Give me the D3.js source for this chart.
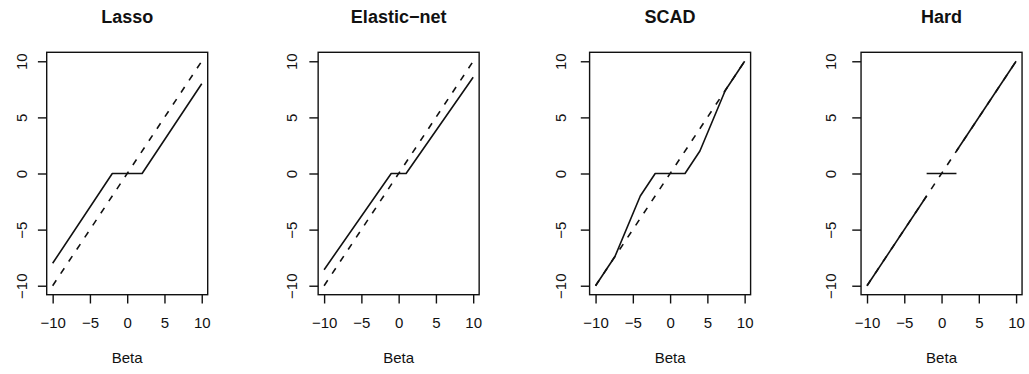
<!DOCTYPE html>
<html>
<head>
<meta charset="utf-8">
<script src="https://cdn.jsdelivr.net/npm/d3@7"></script>
<style>
  body { margin: 0; background: #fff; }
  text { font-family: "Liberation Sans", Arial, sans-serif; fill: #111; }
</style>
</head>
<body>
<div id="chart"></div>
<script>
// thresholding rules: estimate vs. Beta, identity drawn dashed
var betaTicks = [-10, -5, 0, 5, 10];
var panelTitles = ["Lasso", "Elastic\u2212net", "SCAD", "Hard"];

var identityX = [-10, 10];
var identityY = [-10, 10];

var lassoX = [-10, -2, 2, 10];
var lassoY = [-8, 0, 0, 8];

var enetX = [-10, -1, 1, 10];
var enetY = [-8.57, 0, 0, 8.57];

var scadX = [-10, -7.4, -4, -2, 2, 4, 7.4, 10];
var scadY = [-10, -7.4, -2, 0, 0, 2, 7.4, 10];

// null breaks the line into separate pieces
var hardX = [-10, -2, null, -2, 2, null, 2, 10];
var hardY = [-10, -2, null, 0, 0, null, 2, 10];

var solidX = [lassoX, enetX, scadX, hardX];
var solidY = [lassoY, enetY, scadY, hardY];

var svgWidth = 1029;
var svgHeight = 374;

var plotLeft = 46.7;
var plotStep = 271.45;
var plotWidth = 161;
var plotTop = 52.3;
var plotHeight = 242.4;
var yLabelGap = [20.2, 21.3, 24, 25.5];

var svg = d3.select("#chart")
  .append("svg")
  .attr("width", svgWidth)
  .attr("height", svgHeight);

function zip(xs, ys) {
  return xs.map(function(x, i) { return [x, ys[i]]; });
}

panelTitles.forEach(function(title, i) {
  var left = plotLeft + i * plotStep;

  var xScale = d3.scaleLinear()
    .domain([-10.8, 10.8])
    .range([0, plotWidth]);

  var yScale = d3.scaleLinear()
    .domain([-10.8, 10.8])
    .range([plotHeight, 0]);

  var g = svg.append("g")
    .attr("transform", `translate(${left}, ${plotTop})`);

  var line = d3.line()
    .defined(d => d[0] !== null)
    .x(d => xScale(d[0]))
    .y(d => yScale(d[1]));

  // dashed identity line
  g.append("path")
    .datum(zip(identityX, identityY))
    .attr("d", line)
    .attr("fill", "none")
    .attr("stroke", "#111")
    .attr("stroke-width", 1.6)
    .attr("stroke-dasharray", "6.5,8");

  // thresholded estimate
  g.append("path")
    .datum(zip(solidX[i], solidY[i]))
    .attr("d", line)
    .attr("fill", "none")
    .attr("stroke", "#111")
    .attr("stroke-width", 1.6)
    .attr("stroke-linejoin", "round");

  // box
  g.append("rect")
    .attr("x", 0)
    .attr("y", 0)
    .attr("width", plotWidth)
    .attr("height", plotHeight)
    .attr("fill", "none")
    .attr("stroke", "#111")
    .attr("stroke-width", 1.4);

  var bottomAxis = d3.axisBottom(xScale)
    .tickValues(betaTicks)
    .tickSize(8.8)
    .tickFormat(d => d < 0 ? "\u2212" + Math.abs(d) : d);

  var xAxis = g.append("g")
    .attr("transform", `translate(0, ${plotHeight})`)
    .call(bottomAxis);
  xAxis.select(".domain").remove();
  xAxis.selectAll("line").attr("stroke", "#111").attr("stroke-width", 1.4);
  xAxis.selectAll("text")
    .attr("y", 33.6)
    .attr("dy", null)
    .attr("fill", "#222")
    .attr("font-size", "15px")
    .attr("font-family", null);

  var leftAxis = d3.axisLeft(yScale)
    .tickValues(betaTicks)
    .tickSize(8.8)
    .tickFormat(d => d < 0 ? "\u2212" + Math.abs(d) : d);

  var yAxis = g.append("g")
    .call(leftAxis);
  yAxis.select(".domain").remove();
  yAxis.selectAll("line").attr("stroke", "#111").attr("stroke-width", 1.4);
  yAxis.selectAll("text")
    .attr("transform", "rotate(-90)")
    .attr("x", 0)
    .attr("y", -yLabelGap[i])
    .attr("dy", null)
    .attr("text-anchor", "middle")
    .attr("fill", "#222")
    .attr("font-size", "15px")
    .attr("font-family", null);

  // panel title
  g.append("text")
    .attr("x", plotWidth / 2)
    .attr("y", 22.5 - plotTop)
    .attr("text-anchor", "middle")
    .attr("font-size", "18px")
    .attr("font-weight", "bold")
    .text(title);

  // x axis label
  g.append("text")
    .attr("x", plotWidth / 2)
    .attr("y", 363.3 - plotTop)
    .attr("text-anchor", "middle")
    .attr("fill", "#222")
    .attr("font-size", "15px")
    .text("Beta");
});
</script>
</body>
</html>
